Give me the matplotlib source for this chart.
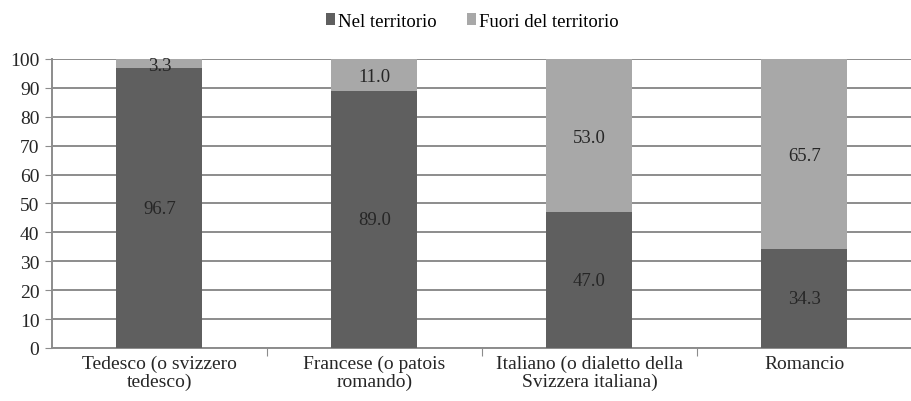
import numpy as np
import matplotlib.pyplot as plt

categorie = ["Tedesco (o svizzero\ntedesco)", "Francese (o patois\nromando)",
             "Italiano (o dialetto della\nSvizzera italiana)", "Romancio"]
nel_territorio = [96.7, 89.0, 47.0, 34.3]
fuori_territorio = [3.3, 11.0, 53.0, 65.7]

plt.rcParams['font.family'] = ['Liberation Serif', 'DejaVu Serif']

col_scuro = "#5f5f5f"
col_chiaro = "#a8a8a8"
col_testo = "#262626"

fig = plt.figure(figsize=(9.12, 4.02), dpi=100)
ax = fig.add_axes([0.057, 0.132, 0.943, 0.719])

x = np.arange(len(categorie))
b1 = ax.bar(x, nel_territorio, width=0.4, color=col_scuro, label="Nel territorio", zorder=3)
b2 = ax.bar(x, fuori_territorio, width=0.4, bottom=nel_territorio, color=col_chiaro,
            label="Fuori del territorio", zorder=3)

for i in range(len(x)):
    ax.text(x[i], nel_territorio[i] / 2, "%.1f" % nel_territorio[i], ha="center",
            va="center", fontsize=13.5, color=col_testo, zorder=4)
    ax.text(x[i], nel_territorio[i] + fuori_territorio[i] / 2 - 0.6, "%.1f" % fuori_territorio[i],
            ha="center", va="center", fontsize=13.5, color=col_testo, zorder=4)

ax.set_xlim(-0.5, len(categorie) - 0.5)
ax.set_ylim(0, 100)
ax.set_yticks(range(0, 101, 10))
ax.tick_params(axis="y", labelsize=14, labelcolor=col_testo, length=5, color="#8c8c8c", pad=4)
ax.yaxis.grid(True, color="#8c8c8c", linewidth=1.4, zorder=0)

# tick tra le categorie, etichette al centro
ax.set_xticks(np.arange(0.5, len(categorie) - 0.5, 1.0))
ax.set_xticklabels([])
ax.tick_params(axis="x", length=6, color="#8c8c8c")
ax.set_xticks(x, minor=True)
ax.set_xticklabels(categorie, minor=True, fontsize=14, color=col_testo, linespacing=1.05)
ax.tick_params(axis="x", which="minor", length=0, pad=5)

for s in ["top", "right"]:
    ax.spines[s].set_visible(False)
for s in ["left", "bottom"]:
    ax.spines[s].set_color("#8c8c8c")
    ax.spines[s].set_linewidth(1.4)

fig.legend(handles=[b1, b2], loc="center", bbox_to_anchor=(0.518, 0.945), ncol=2,
           frameon=False, fontsize=13.5, handlelength=0.5, handleheight=0.6,
           handletextpad=0.15, columnspacing=1.6)

fig.savefig("out.png", dpi=100)
